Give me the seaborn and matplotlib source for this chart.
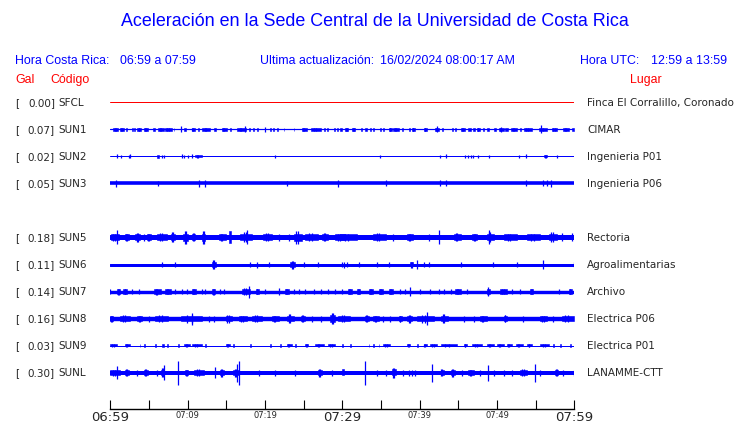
import matplotlib
matplotlib.use("Agg")
import matplotlib.pyplot as plt
import seaborn as sns

# ---- data ----
stations = ["SFCL", "SUN1", "SUN2", "SUN3", "SUN5", "SUN6", "SUN7", "SUN8", "SUN9", "SUNL"]
peak_gal = [0.00, 0.07, 0.02, 0.05, 0.18, 0.11, 0.14, 0.16, 0.03, 0.30]
places = ["Finca El Corralillo, Coronado", "CIMAR", "Ingenieria P01", "Ingenieria P06",
          "Rectoria", "Agroalimentarias", "Archivo", "Electrica P06", "Electrica P01",
          "LANAMME-CTT"]

tick_minutes = list(range(0, 61, 5))
tick_labels = {0: "06:59", 10: "07:09", 20: "07:19", 30: "07:29",
               40: "07:39", 50: "07:49", 60: "07:59"}
major_ticks = [0, 30, 60]

# resting noise level of every trace (half width)
noise = {"SFCL": 0.5, "SUN1": 0.6, "SUN2": 0.5, "SUN3": 1.8, "SUN5": 2.5,
         "SUN6": 1.5, "SUN7": 1.7, "SUN8": 2.2, "SUN9": 0.5, "SUNL": 2.0}

# bursts: (start minute, end minute, half amplitude); start == end is a single spike
bursts = {
    "SFCL": [],
    "SUN1": [(0.4, 1.0, 1.5), (1.2, 1.8, 1.5), (2.0, 2.1, 1.5), (2.8, 2.9, 1.5), (3.1, 3.2, 1.5),
             (3.5, 4.0, 1.5), (4.4, 4.9, 1.5), (5.5, 5.8, 1.5), (6.2, 6.9, 1.5), (7.1, 8.0, 1.5),
             (8.2, 8.3, 1.5), (9.1, 9.1, 3), (9.5, 9.8, 1.5), (10.5, 10.9, 1.5), (11.4, 11.5, 1.5),
             (11.9, 12.9, 1.5), (13.4, 13.7, 1.5), (14.4, 15.1, 1.5), (15.5, 15.6, 1.5),
             (16.4, 17.5, 1.5), (17.4, 17.4, 3), (17.9, 18.0, 1.5), (18.5, 18.6, 1.5),
             (19.0, 19.1, 1.5), (20.0, 20.0, 2.5), (20.7, 20.8, 1.5), (21.1, 21.2, 1.5),
             (21.6, 21.7, 1.5), (22.4, 22.5, 1.5), (23.7, 23.8, 1.5), (24.8, 25.4, 1.5),
             (25.9, 27.2, 1.5), (27.6, 27.7, 1.5), (28.0, 28.1, 1.5), (28.9, 29.0, 1.5),
             (29.3, 29.4, 1.5), (29.7, 30.0, 1.5), (30.4, 30.8, 1.5), (31.3, 31.7, 1.5),
             (32.4, 32.5, 1.5), (33.0, 33.2, 1.5), (33.6, 33.7, 1.5), (34.0, 34.1, 1.5),
             (34.9, 35.0, 1.5), (35.3, 35.4, 1.5), (36.0, 36.4, 1.5), (36.6, 37.3, 1.5),
             (37.7, 37.8, 1.5), (38.6, 38.7, 1.5), (39.0, 39.4, 1.5), (40.5, 41.0, 1.5),
             (42.0, 42.5, 1.5), (42.2, 42.2, 3), (42.9, 43.0, 1.5), (44.2, 44.3, 1.5),
             (44.6, 44.7, 1.5), (45.3, 45.9, 1.5), (46.3, 46.6, 1.5), (46.9, 47.2, 1.5),
             (47.4, 47.8, 1.5), (48.2, 48.3, 1.5), (48.7, 49.0, 1.5), (49.6, 49.9, 1.5),
             (50.2, 50.9, 1.5), (50.5, 50.5, 2.5), (51.1, 51.4, 1.5), (51.8, 52.6, 1.5),
             (53.0, 53.1, 1.5), (53.5, 54.5, 1.5), (55.4, 56.5, 1.5), (55.7, 55.7, 4),
             (57.1, 57.8, 1.5), (58.6, 59.3, 1.5), (59.7, 60.0, 1.5)],
    "SUN2": [(0.9, 0.9, 2), (1.4, 1.4, 1.5), (2.4, 2.4, 1.5), (2.6, 2.6, 2), (6.1, 6.3, 1.5),
             (6.7, 6.7, 1.5), (6.9, 6.9, 1.5), (9.3, 9.3, 2), (9.5, 9.5, 1.5), (10.0, 10.0, 1.5),
             (10.6, 10.6, 2), (10.9, 11.9, 1.5), (21.3, 21.3, 1.5), (34.9, 34.9, 1.5),
             (42.6, 42.6, 1.5), (43.4, 43.4, 2), (45.9, 45.9, 1.5), (46.2, 46.2, 1.5),
             (46.6, 46.6, 1.5), (46.9, 46.9, 1.5), (47.5, 47.5, 1.5), (49.0, 49.0, 1.5),
             (52.8, 52.8, 1.5), (53.7, 53.7, 2), (56.1, 56.5, 1.5), (57.8, 57.8, 1.5)],
    "SUN3": [(0.7, 0.7, 3.5), (6.2, 6.2, 2.5), (11.5, 11.5, 3.5), (12.3, 12.3, 3.5),
             (22.8, 22.8, 2.5), (29.4, 29.4, 3.5), (35.7, 35.7, 3), (42.6, 42.6, 3),
             (43.4, 43.4, 3), (53.7, 53.7, 3), (56.0, 56.0, 3), (56.5, 56.5, 3), (57.0, 57.0, 3.5)],
    "SUN5": [(0.1, 1.1, 3.5), (0.9, 0.9, 7), (1.9, 2.4, 3.5), (3.2, 3.9, 4.5), (4.3, 4.3, 3.5),
             (4.7, 5.2, 3.5), (6.0, 7.3, 4), (7.8, 8.4, 5), (9.4, 10.1, 6.5), (10.6, 11.0, 4),
             (11.9, 12.3, 6.5), (14.0, 14.9, 3.5), (15.3, 15.6, 6), (16.8, 18.3, 5),
             (17.7, 17.7, 7), (19.8, 20.9, 4), (21.8, 21.8, 3.5), (23.1, 23.1, 3.5),
             (23.7, 24.8, 6.5), (25.2, 26.9, 4), (27.4, 28.2, 4), (29.1, 30.4, 3.5),
             (29.7, 31.9, 3.5), (34.0, 35.6, 4), (36.6, 36.6, 3.5), (38.4, 39.2, 3.5),
             (41.2, 41.2, 3.5), (42.5, 42.5, 7), (44.4, 45.3, 4), (46.8, 47.4, 3.5),
             (48.7, 49.6, 5), (49.0, 49.0, 7), (50.9, 52.6, 3.5), (53.9, 55.6, 3.5),
             (56.7, 57.8, 5), (58.4, 58.4, 4), (59.7, 59.7, 4)],
    "SUN6": [(6.7, 6.7, 2.5), (8.4, 8.4, 2.5), (13.1, 13.7, 4.5), (18.1, 18.1, 2.5),
             (19.0, 19.0, 3), (20.5, 20.5, 2.5), (23.3, 23.9, 4), (25.1, 25.1, 2.5),
             (26.9, 26.9, 2.5), (30.2, 30.2, 3), (30.0, 30.0, 2.5), (30.6, 30.6, 2.5),
             (32.2, 32.2, 2.5), (34.5, 34.5, 2.5), (36.1, 36.1, 2.5), (38.8, 39.2, 3),
             (39.7, 39.7, 4.5), (40.5, 40.5, 2.5), (41.2, 41.2, 2.5), (45.3, 45.3, 2.5),
             (49.5, 49.5, 2.5), (52.6, 52.6, 2.5), (56.0, 56.0, 4.5), (59.9, 59.9, 2.5)],
    "SUN7": [(0.0, 0.0, 2.5), (0.9, 1.3, 3), (1.7, 2.2, 2.5), (2.8, 2.8, 2.5), (3.7, 3.7, 2.5),
             (5.6, 6.5, 3), (7.1, 7.8, 2.5), (8.4, 8.4, 2.5), (9.3, 9.3, 2.5), (9.9, 9.9, 2.5),
             (10.6, 11.1, 2.5), (11.9, 11.9, 2.5), (12.3, 12.3, 2.5), (13.1, 13.6, 3),
             (14.2, 14.2, 2.5), (14.7, 14.7, 2.5), (17.0, 18.1, 3.5), (17.9, 17.9, 6),
             (18.8, 19.2, 2.5), (20.0, 20.0, 2.5), (21.8, 21.8, 3.5), (22.6, 23.1, 2.5),
             (23.7, 23.7, 2.5), (24.4, 24.4, 2.5), (25.2, 25.2, 2.5), (26.3, 26.3, 2.5),
             (27.2, 27.2, 2.5), (28.2, 28.2, 2.5), (29.1, 29.1, 2.5), (30.0, 30.0, 2.5),
             (30.8, 31.2, 2.5), (31.9, 32.3, 2.5), (33.4, 34.0, 2.5), (34.7, 35.3, 2.5),
             (36.0, 36.6, 2.5), (37.5, 37.5, 2.5), (38.1, 38.1, 2.5), (38.8, 38.8, 4.5),
             (40.1, 40.1, 2.5), (41.4, 41.4, 2.5), (42.5, 42.5, 2.5), (43.1, 43.1, 2.5),
             (44.0, 44.0, 2.5), (44.6, 45.3, 2.5), (46.1, 46.1, 2.5), (48.7, 49.1, 3),
             (48.9, 48.9, 4.5), (50.4, 51.3, 2.5), (51.9, 51.9, 2.5), (53.0, 53.0, 2.5),
             (54.3, 54.7, 2.5), (58.0, 58.0, 2.5), (59.3, 59.7, 2.5)],
    "SUN8": [(0.0, 0.4, 3), (1.3, 2.6, 3.5), (3.5, 4.1, 3), (5.0, 5.0, 3), (5.8, 7.5, 3.5),
             (9.1, 11.9, 4), (10.6, 10.6, 6), (12.7, 12.7, 3), (13.4, 13.4, 3), (14.9, 15.7, 4),
             (16.6, 17.7, 3), (18.3, 19.6, 3.5), (20.9, 21.8, 3), (22.8, 23.7, 4.5),
             (24.6, 25.2, 3.5), (26.1, 26.1, 3), (27.2, 27.2, 3), (28.4, 29.1, 5.5),
             (29.5, 31.0, 3.5), (33.0, 33.4, 3.5), (34.0, 34.7, 3), (35.3, 35.3, 3),
             (36.2, 36.2, 3), (37.3, 37.7, 3), (38.4, 39.0, 4), (39.7, 41.8, 4),
             (41.0, 41.0, 6.5), (42.7, 43.7, 4.5), (45.7, 45.7, 3), (47.0, 47.0, 3),
             (47.8, 48.7, 3), (50.9, 51.3, 3.5), (53.4, 53.4, 3), (55.6, 56.5, 3),
             (57.3, 57.3, 3), (58.4, 59.9, 3.5)],
    "SUN9": [(0.0, 0.9, 1.5), (1.9, 2.5, 1.5), (3.8, 3.9, 1.5), (4.4, 4.5, 1.5), (5.8, 5.9, 1.5),
             (6.7, 6.9, 1.5), (7.3, 7.4, 1.5), (8.8, 8.9, 1.5), (9.5, 10.3, 1.5), (10.6, 11.9, 1.5),
             (12.3, 12.4, 1.5), (14.9, 15.5, 1.5), (15.9, 16.0, 1.5), (18.1, 18.2, 1.5),
             (20.7, 20.8, 1.5), (22.0, 22.1, 1.5), (22.8, 23.5, 1.5), (23.9, 24.0, 1.5),
             (25.2, 25.6, 1.5), (26.5, 27.6, 1.5), (28.2, 29.1, 1.5), (30.0, 30.1, 1.5),
             (31.0, 31.1, 1.5), (33.4, 33.5, 1.5), (34.0, 34.1, 1.5), (34.7, 34.8, 1.5),
             (35.3, 36.2, 1.5), (38.4, 38.8, 1.5), (39.7, 39.8, 1.5), (40.5, 40.9, 1.5),
             (41.4, 42.2, 1.5), (42.7, 44.8, 1.5), (45.7, 46.1, 1.5), (46.8, 48.1, 1.5),
             (48.7, 49.6, 1.5), (50.0, 50.9, 1.5), (51.3, 51.9, 1.5), (52.4, 53.4, 1.5),
             (53.9, 54.5, 1.5), (55.6, 56.7, 1.5), (57.3, 57.4, 1.5), (58.2, 58.3, 1.5),
             (59.5, 59.6, 1.5)],
    "SUNL": [(0.0, 1.3, 3), (0.9, 0.9, 6.5), (1.9, 2.4, 3.5), (3.4, 3.4, 3), (4.4, 4.9, 3.5),
             (6.0, 6.0, 3), (6.5, 7.0, 4.5), (6.9, 6.9, 7.5), (8.8, 8.8, 12), (9.7, 10.1, 3),
             (10.8, 12.1, 3.5), (13.6, 13.6, 5.5), (14.2, 14.7, 4), (15.9, 16.6, 4),
             (16.4, 16.4, 9), (16.6, 16.6, 12), (19.2, 19.2, 3), (21.3, 21.3, 3),
             (23.9, 23.9, 3), (26.9, 27.4, 4), (28.7, 28.7, 3), (30.0, 30.2, 3),
             (32.9, 32.9, 12), (34.5, 34.5, 3), (35.6, 35.6, 3), (36.4, 36.9, 5),
             (37.9, 37.9, 3), (38.6, 38.6, 3), (39.0, 39.0, 3), (39.4, 39.4, 3),
             (41.6, 41.6, 9), (42.7, 43.1, 3.5), (44.0, 44.6, 4), (45.5, 45.5, 3),
             (46.3, 47.0, 3), (47.8, 47.8, 3), (48.8, 48.8, 8), (49.6, 49.6, 3),
             (50.9, 50.9, 3), (51.9, 51.9, 3), (53.0, 53.9, 3.5), (54.9, 54.9, 9),
             (55.6, 55.6, 3), (57.5, 57.9, 3.5), (58.6, 58.6, 3), (59.9, 59.9, 3)],
}

# ---- layout ----
W, H = 740, 423
BLUE = "#0000ff"
RED = "#ff0000"

sns.set_style("white")
plt.rcParams["font.family"] = ["DejaVu Sans"]

fig = plt.figure(figsize=(W / 100, H / 100), dpi=100)
ax = fig.add_axes([110.3 / W, (H - 409) / H, 464 / W, 319 / H])
ax.set_xlim(0, 60)
ax.set_ylim(0, 319)


def ftext(x, y, s, **kw):
    fig.text(x / W, 1 - y / H, s, **kw)


# row slot of each trace (SUN4 slot is empty)
slots = [0, 1, 2, 3, 5, 6, 7, 8, 9, 10]

for st, slot, g, place in zip(stations, slots, peak_gal, places):
    yc = 306.5 - 27 * slot
    ypix = 103 + 27 * slot
    color = RED if st == "SFCL" else BLUE
    base = noise[st]
    lw = max(2 * base, 1.0) * 0.72
    sns.lineplot(x=[0, 60], y=[yc, yc], ax=ax, color=color, linewidth=lw)
    for t0, t1, a in bursts[st]:
        w = t1 - t0
        if w <= 0:
            ax.vlines(t0, yc - a, yc + a, color=color, linewidth=0.9)
        elif w < 0.35:
            ax.fill_between([t0, t1], yc - a, yc + a, color=color, linewidth=0.4,
                            edgecolor=color)
        else:
            # long burst: moderate body with its peak in the middle
            body = max(base + 0.5, 0.6 * a)
            ax.fill_between([t0, t1], yc - body, yc + body, color=color, linewidth=0.4,
                            edgecolor=color)
            ax.vlines([t0 + 0.3 * w, t0 + 0.5 * w], yc - a, yc + a, color=color,
                      linewidth=0.9)
    ftext(15, ypix, "[", va="center", fontsize=7.5)
    ftext(55, ypix, f"{g:.2f}]", va="center", ha="right", fontsize=7.5)
    ftext(58, ypix, st, va="center", fontsize=7.5)
    ftext(587, ypix, place, va="center", fontsize=7.5)

# axis
for side in ["left", "right", "top"]:
    ax.spines[side].set_visible(False)
ax.spines["bottom"].set_color("black")
ax.spines["bottom"].set_linewidth(1.0)
ax.set_yticks([])
ax.set_xticks(tick_minutes)
ax.set_xticklabels([tick_labels.get(m, "") for m in tick_minutes])
ax.tick_params(axis="x", direction="in", length=6.5, width=0.8, color="black",
               pad=1.5, bottom=True)
for m, lab in zip(tick_minutes, ax.get_xticklabels()):
    lab.set_fontsize(9.5 if m in major_ticks else 6)
    lab.set_verticalalignment("top")

# header texts
hf = "Liberation Sans"
ftext(375, 22, "Aceleración en la Sede Central de la Universidad de Costa Rica",
      ha="center", va="center", color=BLUE, fontsize=12.9, family=hf)
ftext(15, 61, "Hora Costa Rica:", va="center", color=BLUE, fontsize=8.9, family=hf)
ftext(120, 61, "06:59 a 07:59", va="center", color=BLUE, fontsize=8.9, family=hf)
ftext(260, 61, "Ultima actualización:", va="center", color=BLUE, fontsize=8.9, family=hf)
ftext(380, 61, "16/02/2024 08:00:17 AM", va="center", color=BLUE, fontsize=8.9, family=hf)
ftext(580, 61, "Hora UTC:", va="center", color=BLUE, fontsize=8.9, family=hf)
ftext(651, 61, "12:59 a 13:59", va="center", color=BLUE, fontsize=8.9, family=hf)
ftext(15, 80, "Gal", va="center", color=RED, fontsize=8.9, family=hf)
ftext(50, 80, "Código", va="center", color=RED, fontsize=8.9, family=hf)
ftext(630, 80, "Lugar", va="center", color=RED, fontsize=8.9, family=hf)

fig.savefig("out.png", dpi=100)
